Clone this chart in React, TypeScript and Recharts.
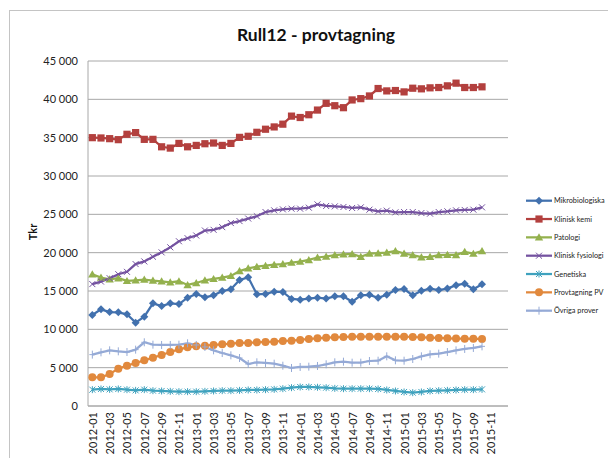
import React from 'react';
import { LineChart, Line, XAxis, YAxis, CartesianGrid } from 'recharts';

const months: string[] = [
  '2012-01','2012-02','2012-03','2012-04','2012-05','2012-06','2012-07','2012-08','2012-09','2012-10','2012-11','2012-12',
  '2013-01','2013-02','2013-03','2013-04','2013-05','2013-06','2013-07','2013-08','2013-09','2013-10','2013-11','2013-12',
  '2014-01','2014-02','2014-03','2014-04','2014-05','2014-06','2014-07','2014-08','2014-09','2014-10','2014-11','2014-12',
  '2015-01','2015-02','2015-03','2015-04','2015-05','2015-06','2015-07','2015-08','2015-09','2015-10','2015-11','2015-12',
];

const mikrobiologiska = [11870,12610,12260,12220,11960,10870,11650,13390,13040,13390,13300,14130,14610,14170,14430,15000,15220,16430,16780,14570,14610,14910,14870,13960,13870,14020,14130,14020,14300,14300,13590,14430,14500,14110,14500,15130,15260,14430,15020,15300,15130,15320,15760,15950,15240,15870];
const kliniskKemi = [35000,34960,34870,34740,35440,35660,34780,34780,33810,33640,34250,33810,33990,34210,34300,33990,34250,35040,35180,35700,36100,36400,36760,37810,37630,37990,38600,39480,39170,38910,39920,40090,40440,41410,41100,41150,40970,41450,41370,41500,41540,41760,42110,41540,41540,41630];
const patologi = [17190,16750,16530,16670,16320,16400,16490,16360,16270,16140,16270,15790,16050,16400,16580,16750,16970,17600,17960,18170,18300,18430,18520,18700,18830,19050,19370,19500,19680,19780,19830,19460,19890,19930,20020,20220,19890,19680,19410,19460,19680,19720,19700,20110,19870,20220];
const kliniskFysiologi = [15900,16230,16670,17190,17500,18510,18860,19470,20040,20700,21490,21890,22240,22890,22980,23330,23860,24120,24450,24750,25300,25520,25650,25740,25740,25870,26300,26090,26040,25960,25830,25910,25610,25390,25480,25260,25300,25300,25170,25090,25300,25390,25520,25570,25610,25910];
const genetiska = [2130,2220,2170,2220,2130,2040,2130,2000,1960,1910,1870,1870,1870,1910,1960,2000,2000,2040,2090,2090,2130,2170,2260,2390,2480,2480,2440,2390,2300,2260,2260,2260,2260,2220,2090,1960,1830,1740,1830,1960,2000,2040,2090,2130,2130,2170];
const provtagningPV = [3740,3740,4170,4870,5260,5610,5960,6300,6650,7040,7390,7650,7780,7870,7960,8050,8130,8220,8220,8310,8350,8390,8480,8520,8610,8740,8830,8910,8960,9000,9040,9040,9040,9040,9040,9040,9040,9000,8960,8910,8870,8830,8800,8780,8760,8740];
const ovrigaProver = [6700,7000,7260,7130,7040,7350,8310,8000,7960,7960,8000,8180,7960,7700,7260,6910,6610,6260,5480,5700,5610,5520,5260,4960,5090,5130,5220,5440,5700,5780,5650,5650,5870,5910,6480,5960,5910,6130,6480,6740,6830,7040,7260,7440,7570,7780];

const yTicks = [0, 5000, 10000, 15000, 20000, 25000, 30000, 35000, 40000, 45000];
const xTickIdx = months.map((_, i) => i).filter((i) => i % 2 === 0);

type Shape = 'diamond' | 'square' | 'triangle' | 'x' | 'asterisk' | 'circle' | 'plus';

const series: { key: string; name: string; values: number[]; color: string; shape: Shape }[] = [
  { key: 'mikro', name: 'Mikrobiologiska', values: mikrobiologiska, color: '#4271AE', shape: 'diamond' },
  { key: 'kemi', name: 'Klinisk kemi', values: kliniskKemi, color: '#B3403E', shape: 'square' },
  { key: 'pat', name: 'Patologi', values: patologi, color: '#94B14E', shape: 'triangle' },
  { key: 'fys', name: 'Klinisk fysiologi', values: kliniskFysiologi, color: '#7452A0', shape: 'x' },
  { key: 'gen', name: 'Genetiska', values: genetiska, color: '#3FA2BE', shape: 'asterisk' },
  { key: 'prov', name: 'Provtagning PV', values: provtagningPV, color: '#E1893D', shape: 'circle' },
  { key: 'ovr', name: 'Övriga prover', values: ovrigaProver, color: '#95AAD6', shape: 'plus' },
];

const data = months.map((m, i) => {
  const row: Record<string, number | string | null> = { x: i, label: m };
  series.forEach((s) => {
    row[s.key] = i < s.values.length ? s.values[i] : null;
  });
  return row;
});

function markerShape(shape: Shape, cx: number, cy: number, color: string) {
  switch (shape) {
    case 'diamond':
      return <polygon points={`${cx},${cy - 4} ${cx + 4},${cy} ${cx},${cy + 4} ${cx - 4},${cy}`} fill={color} />;
    case 'square':
      return <rect x={cx - 3.6} y={cy - 3.6} width={7.2} height={7.2} fill={color} />;
    case 'triangle':
      return <polygon points={`${cx},${cy - 4} ${cx + 4.2},${cy + 3.2} ${cx - 4.2},${cy + 3.2}`} fill={color} />;
    case 'x':
      return (
        <g stroke={color} strokeWidth={1}>
          <line x1={cx - 3} y1={cy - 3} x2={cx + 3} y2={cy + 3} />
          <line x1={cx - 3} y1={cy + 3} x2={cx + 3} y2={cy - 3} />
        </g>
      );
    case 'asterisk':
      return (
        <g stroke={color} strokeWidth={1}>
          <line x1={cx - 3} y1={cy - 3} x2={cx + 3} y2={cy + 3} />
          <line x1={cx - 3} y1={cy + 3} x2={cx + 3} y2={cy - 3} />
          <line x1={cx} y1={cy - 3.5} x2={cx} y2={cy + 3.5} />
        </g>
      );
    case 'circle':
      return <circle cx={cx} cy={cy} r={4} fill={color} />;
    case 'plus':
    default:
      return (
        <g stroke={color} strokeWidth={1}>
          <line x1={cx} y1={cy - 4} x2={cx} y2={cy + 4} />
          <line x1={cx - 3} y1={cy} x2={cx + 3} y2={cy} />
        </g>
      );
  }
}

function makeDot(shape: Shape, color: string, key: string) {
  return (props: any) => {
    const { cx, cy, index } = props;
    if (cx == null || cy == null || Number.isNaN(cx) || Number.isNaN(cy)) {
      return <g key={`${key}-${index}`} />;
    }
    return <g key={`${key}-${index}`}>{markerShape(shape, cx, cy, color)}</g>;
  };
}

const fmt = (v: number) => String(v).replace(/\B(?=(\d{3})+(?!\d))/g, ' ');

const XTick = (props: any) => {
  const { x, y, payload } = props;
  const label = months[payload.value] ?? '';
  return (
    <text
      x={x}
      y={y}
      transform={`rotate(-90, ${x}, ${y})`}
      textAnchor="end"
      dominantBaseline="central"
      fontSize={11}
      fill="#222"
      fontFamily="Lato"
    >
      {label}
    </text>
  );
};

export default function App() {
  return (
    <div style={{ position: 'relative', width: 608, height: 450, overflow: 'hidden', background: '#fff', fontFamily: 'Lato' }}>
      <div style={{ position: 'absolute', left: 1, top: 2, width: 700, height: 600, borderLeft: '1px solid #c4c4c4', borderTop: '1px solid #c4c4c4' }} />
      <div style={{ position: 'absolute', left: 0, top: 16, width: 616, textAlign: 'center', fontSize: 17.5, fontWeight: 'bold', color: '#111', lineHeight: '22px' }}>
        Rull12 - provtagning
      </div>
      <div style={{ position: 'absolute', left: 24, top: 224, width: 0, height: 0 }}>
        <div style={{ position: 'absolute', transform: 'translate(-50%, -50%) rotate(-90deg)', fontSize: 11, fontWeight: 'bold', color: '#111', whiteSpace: 'nowrap' }}>Tkr</div>
      </div>
      <div style={{ position: 'absolute', left: 0, top: 0 }}>
        <LineChart width={510} height={450} data={data} margin={{ top: 53, right: 10, bottom: 2, left: 20 }}>
          <CartesianGrid vertical={false} stroke="#a8a8a8" strokeWidth={1} />
          <XAxis
            type="number"
            dataKey="x"
            domain={[-0.5, 47.5]}
            ticks={xTickIdx}
            interval={0}
            tick={<XTick />}
            tickLine={false}
            tickSize={4}
            axisLine={{ stroke: '#a8a8a8' }}
            height={50}
            allowDecimals={false}
          />
          <YAxis
            type="number"
            domain={[0, 45000]}
            ticks={yTicks}
            interval={0}
            tickFormatter={fmt}
            tick={{ fontSize: 11, fill: '#222', fontFamily: 'Lato' }}
            tickLine={false}
            tickSize={8}
            axisLine={{ stroke: '#a8a8a8' }}
            width={60}
          />
          {series.map((s) => (
            <Line
              key={s.key}
              type="linear"
              dataKey={s.key}
              name={s.name}
              stroke={s.color}
              strokeWidth={2.25}
              dot={makeDot(s.shape, s.color, s.key)}
              activeDot={false}
              isAnimationActive={false}
            />
          ))}
        </LineChart>
      </div>
      <svg style={{ position: 'absolute', left: 508, top: 180 }} width={100} height={140}>
        {series.map((s, i) => {
          const cy = 12.7 + i * 18.33;
          return (
            <g key={s.key}>
              <line x1={10} y1={cy} x2={36} y2={cy} stroke={s.color} strokeWidth={2.25} />
              {markerShape(s.shape, 23, cy, s.color)}
              <text x={38} y={cy} dominantBaseline="central" fontSize={7.3} fill="#222" fontFamily="Lato">{s.name}</text>
            </g>
          );
        })}
      </svg>
    </div>
  );
}
